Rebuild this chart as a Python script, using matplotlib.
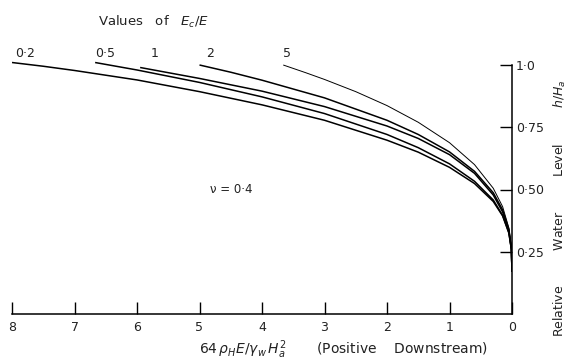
import matplotlib
matplotlib.use('Agg')
import matplotlib.pyplot as plt

# curve labels (values of Ec/E)
ratio_labels = ['0·2', '0·5', '1', '2', '5']
label_x = [7.79, 6.51, 5.72, 4.83, 3.60]

# read-off points for each curve (x = 64 pH E / yw Ha^2, y = h/Ha)
x_02 = [8.0, 7.5, 7.0, 6.0, 5.0, 4.0, 3.0, 2.0, 1.5, 1.0, 0.6, 0.3, 0.15, 0.05, 0.01, 0.0]
y_02 = [1.01, 0.995, 0.978, 0.94, 0.893, 0.84, 0.778, 0.698, 0.65, 0.589, 0.524, 0.452, 0.394, 0.325, 0.26, 0.17]

x_05 = [6.67, 6.0, 5.0, 4.0, 3.0, 2.0, 1.5, 1.0, 0.6, 0.3, 0.15, 0.05, 0.01, 0.0]
y_05 = [1.01, 0.98, 0.93, 0.872, 0.805, 0.721, 0.668, 0.603, 0.533, 0.458, 0.396, 0.327, 0.26, 0.17]

x_1 = [5.95, 5.0, 4.0, 3.0, 2.0, 1.5, 1.0, 0.6, 0.3, 0.15, 0.05, 0.01, 0.0]
y_1 = [0.99, 0.946, 0.895, 0.833, 0.755, 0.705, 0.64, 0.565, 0.478, 0.41, 0.335, 0.262, 0.17]

x_2 = [5.0, 4.5, 4.0, 3.0, 2.0, 1.5, 1.0, 0.6, 0.3, 0.15, 0.05, 0.01, 0.0]
y_2 = [1.0, 0.971, 0.939, 0.868, 0.778, 0.721, 0.651, 0.573, 0.487, 0.418, 0.34, 0.264, 0.17]

x_5 = [3.66, 3.3, 3.0, 2.5, 2.0, 1.5, 1.0, 0.6, 0.3, 0.15, 0.05, 0.01, 0.0]
y_5 = [1.0, 0.969, 0.942, 0.893, 0.837, 0.77, 0.688, 0.60, 0.505, 0.431, 0.345, 0.265, 0.17]

x_ticks = [8, 7, 6, 5, 4, 3, 2, 1, 0]
y_ticks = [0.25, 0.5, 0.75, 1.0]
y_tick_labels = ['0·25', '0·50', '0·75', '1·0']

curves = [(x_02, y_02), (x_05, y_05), (x_1, y_1), (x_2, y_2), (x_5, y_5)]
widths = [1.1, 1.1, 1.1, 1.1, 0.7]

txt = '#222222'

fig = plt.figure(figsize=(5.78, 3.63), dpi=100)
ax = fig.add_axes([12 / 578, 1 - 314 / 363, 500 / 578, 298.8 / 363])

for (xs, ys), lw in zip(curves, widths):
    ax.plot(xs, ys, color='black', lw=lw, solid_capstyle='butt')

for lab, lx in zip(ratio_labels, label_x):
    ax.text(lx, 1.045, lab, ha='center', va='center', fontsize=9, color=txt)

ax.text(4.5, 0.5, 'ν = 0·4', ha='center', va='center', fontsize=8.5, color=txt)

ax.set_xlim(8, 0)
ax.set_ylim(0, 1.2)

for s in ['left', 'top']:
    ax.spines[s].set_visible(False)
ax.spines['bottom'].set_bounds(0, 8)
ax.spines['right'].set_bounds(0, 1.0)
ax.spines['bottom'].set_linewidth(1.1)
ax.spines['right'].set_linewidth(1.1)

ax.set_xticks(x_ticks)
ax.set_xticklabels([str(v) for v in x_ticks])
ax.yaxis.tick_right()
ax.set_yticks(y_ticks)
ax.set_yticklabels(y_tick_labels)
ax.tick_params(axis='x', direction='in', length=8.5, width=1.0, pad=5,
               labelsize=9, labelcolor=txt)
ax.tick_params(axis='y', direction='in', length=8.5, width=1.0, pad=3,
               labelsize=9, labelcolor=txt)

fig.text(153 / 578, 1 - 22 / 363, 'Values   of   $E_c/E$', ha='center', va='center',
         fontsize=9.5, color=txt)
fig.text(343 / 578, 1 - 350 / 363,
         r'$64\,\rho_H E/\gamma_w\,H_a^2$       (Positive    Downstream)',
         ha='center', va='center', fontsize=10, color=txt)
fig.text(560 / 578, 1 - 208 / 363,
         'Relative         Water         Level         $h/H_a$',
         ha='center', va='center', rotation=90, fontsize=9, color=txt)

plt.savefig('out.png', dpi=100)
plt.close()
